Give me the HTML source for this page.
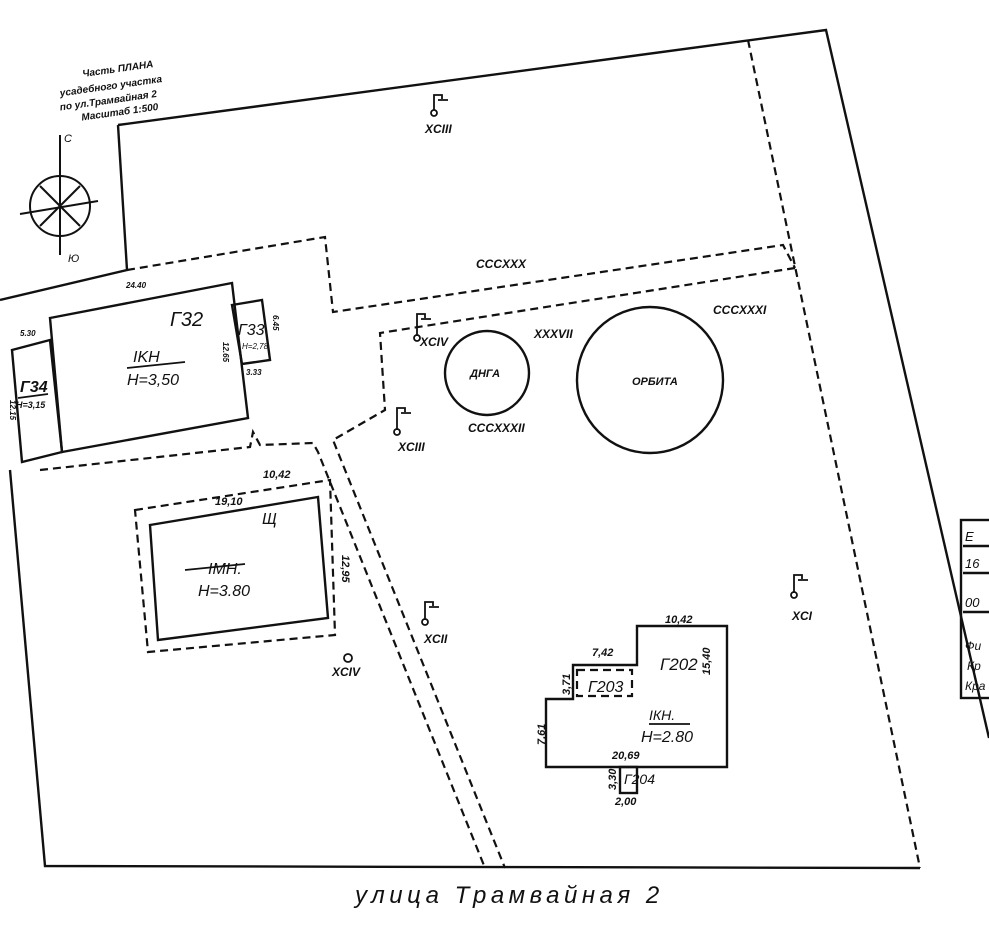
<!DOCTYPE html>
<html><head><meta charset="utf-8"><style>
html,body{margin:0;padding:0;background:#fff;}
svg{display:block;}
text{font-family:"Liberation Sans",sans-serif;font-style:italic;fill:#111;}
</style></head><body>
<svg width="989" height="948" viewBox="0 0 989 948" xmlns="http://www.w3.org/2000/svg">
<rect width="989" height="948" fill="#fff"/>
<g fill="none" stroke="#111" stroke-width="2.4">
<polyline points="118,125 826,30 989,738"/>
<polyline points="118,125 127,270 0,300"/>
<polyline points="10,470 45,866 920,868"/>
<polygon points="50,318 232,283 248,418 62,452"/>
<polygon points="12,350 50,340 62,452 22,462"/>
<polygon points="232,305 262,300 270,360 242,364"/>
<polygon points="150,525 318,497 328,618 158,640"/>
<circle cx="487" cy="373" r="42"/>
<circle cx="650" cy="380" r="73"/>
<polygon points="546,699 573,699 573,665 637,665 637,626 727,626 727,767 546,767"/>
<rect x="620" y="767" width="17" height="26"/>
<rect x="961" y="520" width="30" height="178"/>
<line x1="963" y1="546" x2="989" y2="546"/><line x1="963" y1="573" x2="989" y2="573"/><line x1="963" y1="612" x2="989" y2="612"/>
</g>
<g fill="none" stroke="#111" stroke-width="2.2" stroke-dasharray="8,5">
<polyline points="748,40 920,868"/>
<polyline points="127,270 325,237 333,312 783,245 795,268"/>
<polyline points="795,268 380,333 385,410 333,440 505,868"/>
<polyline points="40,470 250,447 253,432 260,445 313,443 318,452 485,868"/>
<polygon points="135,510 330,480 335,635 148,652"/>
<rect x="577" y="670" width="55" height="26"/>
</g>
<g stroke="#111" stroke-width="2" fill="none">
<circle cx="60" cy="206" r="30"/>
<line x1="60" y1="135" x2="60" y2="255"/>
<line x1="20" y1="214" x2="98" y2="201"/>
<line x1="40" y1="186" x2="80" y2="226"/><line x1="80" y1="186" x2="40" y2="226"/>
</g>
<text x="64" y="142" font-size="11">С</text><text x="68" y="262" font-size="11">Ю</text>
<g font-size="10" font-style="normal" font-weight="bold" transform="rotate(-8 120 90)">
<text x="85" y="72">Часть ПЛАНА</text>
<text x="60" y="88">усадебного участка</text>
<text x="58" y="102">по ул.Трамвайная 2</text>
<text x="78" y="115">Масштаб 1:500</text>
</g>
<g font-size="12" font-weight="bold">
<text x="425" y="133">XCIII</text>
<text x="476" y="268">CCCXXX</text>
<text x="713" y="314">CCCXXXI</text>
<text x="534" y="338">XXXVII</text>
<text x="420" y="346">XCIV</text>
<text x="398" y="451">XCIII</text>
<text x="468" y="432">CCCXXXII</text>
<text x="470" y="377" font-size="11">ДНГА</text>
<text x="632" y="385" font-size="11">ОРБИТА</text>
<text x="424" y="643">XCII</text>
<text x="332" y="676">XCIV</text>
<text x="792" y="620">XCI</text>
</g>
<g stroke="#111" stroke-width="1.8" fill="none">
<path d="M434,110 v-15 h8 v4 M438,100 h10"/><circle cx="434" cy="113" r="3"/>
<path d="M417,336 v-22 h8 v4 M421,319 h10"/><circle cx="417" cy="338" r="3"/>
<path d="M397,430 v-22 h8 v4 M401,413 h10"/><circle cx="397" cy="432" r="3"/>
<path d="M425,620 v-18 h8 v4 M429,607 h10"/><circle cx="425" cy="622" r="3"/>
<path d="M794,593 v-18 h8 v4 M798,580 h10"/><circle cx="794" cy="595" r="3"/>
<circle cx="348" cy="658" r="4"/>
<line x1="127" y1="368" x2="185" y2="362"/><line x1="18" y1="398" x2="48" y2="394"/>
<line x1="185" y1="570" x2="245" y2="564"/><line x1="649" y1="724" x2="690" y2="724"/>
</g>
<g font-size="16"><text x="170" y="326" font-size="20">Г32</text>
<text x="133" y="362">IKH</text><text x="127" y="385">H=3,50</text>
<text x="20" y="392" font-weight="bold">Г34</text><text x="16" y="408" font-size="9" font-weight="bold">H=3,15</text>
<text x="238" y="335">Г33</text><text x="242" y="349" font-size="8">H=2,78</text>
<text x="262" y="524">Щ</text>
<text x="208" y="574">IМН.</text><text x="198" y="596">H=3.80</text>
<text x="660" y="670" font-size="17">Г202</text>
<text x="588" y="692">Г203</text>
<text x="649" y="720" font-size="14">IКН.</text><text x="641" y="742">H=2.80</text>
<text x="624" y="784" font-size="14">Г204</text>
</g>
<g font-size="11" font-weight="bold">
<text x="126" y="288" font-size="8">24.40</text><text x="20" y="336" font-size="8">5.30</text>
<text x="246" y="375" font-size="8">3.33</text>
<text x="263" y="478">10,42</text><text x="215" y="505">19,10</text>
<text x="665" y="623">10,42</text><text x="592" y="656">7,42</text>
<text x="612" y="759">20,69</text><text x="615" y="805">2,00</text>
<text transform="translate(342,555) rotate(90)">12,95</text>
<text transform="translate(710,675) rotate(-90)">15,40</text>
<text transform="translate(545,745) rotate(-90)">7,61</text>
<text transform="translate(570,695) rotate(-90)">3,71</text>
<text transform="translate(616,790) rotate(-90)">3,30</text>
<text transform="translate(223,342) rotate(90)" font-size="8">12.65</text>
<text transform="translate(273,315) rotate(90)" font-size="8">6.45</text>
<text transform="translate(10,400) rotate(90)" font-size="8">12.15</text>
</g>
<g font-size="13" font-style="normal"><text x="965" y="541">Е</text><text x="965" y="568">16</text><text x="965" y="607">00</text>
<text x="965" y="650" font-size="12">Фи</text><text x="967" y="670" font-size="12">Кр</text><text x="965" y="690" font-size="12">Кра</text></g>
<text x="355" y="903" font-size="24" font-style="normal" letter-spacing="4.5">улица Трамвайная 2</text>
</svg>
</body></html>
